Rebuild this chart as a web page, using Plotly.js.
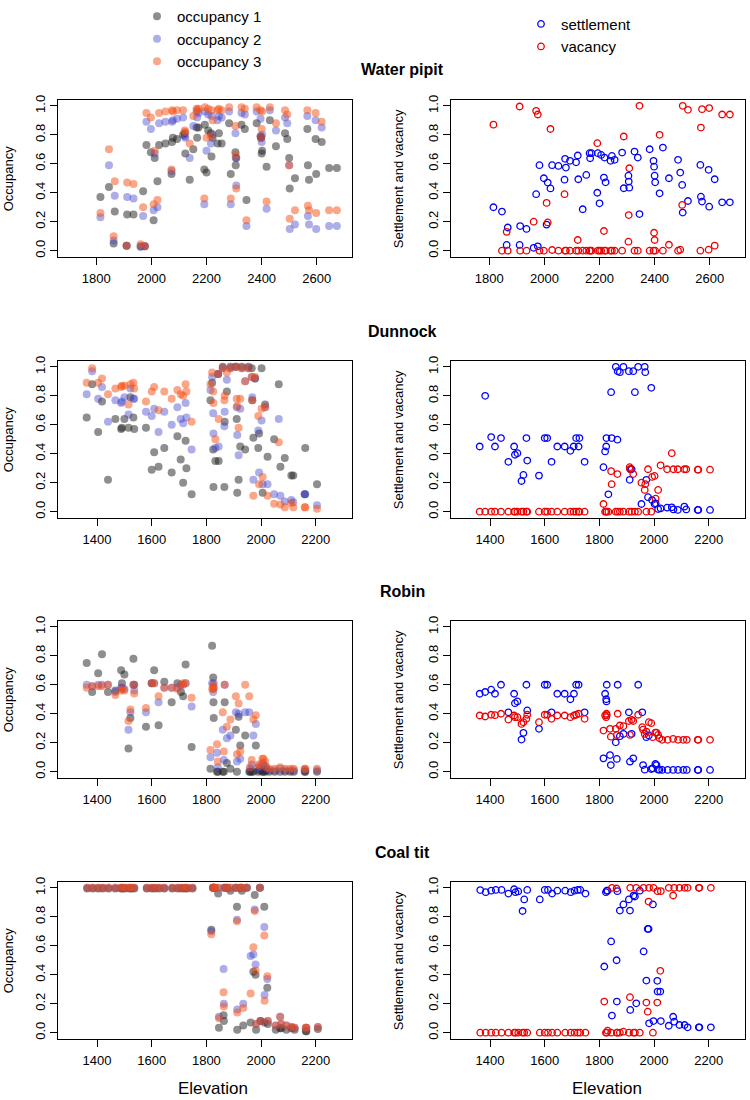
<!DOCTYPE html>
<html>
<head>
<meta charset="utf-8">
<script src="https://cdn.plot.ly/plotly-3.0.1.min.js"></script>
<style>html,body{margin:0;padding:0;background:#fff}</style>
</head>
<body>
<div id="chart" style="width:750px;height:1100px"></div>
<script>
// Water pipit: one entry per site (elevation, occupancy per year, settlement, vacancy)
const pipitElev = [1815,1846,1863,1867,1910,1912,1935,1961,1970,1976,1982,1998,2008,2012,2022,2028,2051,2073,2075,2078,2093,2115,2121,2123,2139,2152,2164,2166,2171,2192,2194,2200,2206,2216,2218,2222,2240,2245,2255,2282,2288,2305,2306,2308,2327,2339,2345,2382,2396,2398,2400,2402,2418,2430,2452,2485,2493,2500,2502,2521,2566,2568,2572,2596,2598,2618,2645,2673];
const pipitOcc1 = [.37,.44,.05,.27,.035,.25,.25,.03,.41,.03,.73,.68,.21,.64,.48,.73,.74,.53,.75,.78,.77,.80,.81,.67,.49,.70,.85,.78,.85,.56,.87,.54,.83,.81,.65,.78,.74,.81,.74,.88,.53,.68,.59,.64,.87,.84,.35,.88,.79,.78,.67,.69,.58,.90,.72,.81,.77,.64,.43,.50,.84,.59,.49,.77,.53,.75,.57,.57];
const pipitOcc2 = [.23,.59,.07,.38,.035,.37,.36,.025,.24,.03,.89,.84,.28,.67,.30,.88,.89,.55,.89,.90,.91,.92,.79,.78,.64,.86,.96,.92,.95,.32,.96,.69,.94,.74,.93,.80,.90,.93,.92,.96,.32,.81,.64,.45,.95,.94,.17,.96,.91,.78,.75,.80,.29,.97,.83,.92,.88,.59,.15,.18,.93,.24,.18,.90,.15,.85,.17,.17];
const pipitOcc3 = [.26,.70,.10,.48,.035,.47,.46,.045,.30,.03,.95,.92,.32,.69,.35,.95,.96,.56,.97,.96,.97,.97,.83,.82,.74,.93,.98,.97,.98,.36,.99,.78,.98,.79,.97,.90,.97,.98,.97,.99,.36,.86,.66,.43,.99,.98,.21,.99,.97,.78,.84,.96,.34,.99,.88,.97,.94,.59,.22,.28,.97,.31,.28,.95,.26,.89,.28,.28];
const pipitSettle = [.30,.27,.04,.16,.04,.17,.15,.02,.39,.03,.59,.50,.18,.47,.43,.59,.585,.49,.634,.574,.62,.61,.657,.493,.286,.523,.673,.638,.673,.40,.673,.327,.661,.505,.643,.472,.62,.654,.627,.677,.431,.518,.477,.435,.684,.643,.253,.70,.62,.58,.518,.472,.396,.712,.50,.627,.539,.454,.263,.343,.592,.373,.339,.558,.304,.493,.334,.334];
const pipitVacancy = [.87,0,.13,0,.995,0,0,.20,.965,.94,0,0,.33,.195,.84,.005,0,.39,0,0,0,0,.074,0,0,0,0,0,0,.742,0,0,0,.136,0,0,0,0,0,0,.788,.062,.246,.569,0,0,1.0,0,0,.124,.074,0,.80,0,.041,0,.007,.316,1.0,.972,0,.85,.977,.007,.984,.035,.94,.94];

// Dunnock
const dunnockElev = [1362,1382,1404,1418,1440,1467,1488,1491,1500,1515,1522,1533,1536,1579,1600,1609,1625,1646,1673,1694,1706,1715,1724,1727,1746,1815,1821,1825,1826,1833,1843,1845,1860,1866,1867,1875,1888,1908,1911,1913,1918,1924,1930,1942,1954,1966,1968,1972,1978,1990,1993,2002,2006,2015,2024,2048,2065,2071,2087,2111,2118,2160,2162,2205];
const dunnockOcc1 = [.65,.88,.55,.76,.22,.64,.57,.58,.64,.58,.79,.65,.57,.58,.29,.41,.31,.44,.27,.52,.36,.20,.49,.30,.12,.77,.89,.43,.17,.35,.95,.35,1.0,.17,.62,.83,1.0,1.0,.64,.13,.22,.45,1.0,.43,1.0,.99,.77,.51,.92,.44,.54,.99,.13,.74,.38,.50,.88,.31,.37,.25,.25,.12,.44,.19];
const dunnockOcc2 = [.81,.97,.78,.86,.62,.77,.75,.76,.79,.67,.85,.78,.78,.69,.66,.71,.55,.69,.60,.72,.64,.61,.75,.65,.43,.84,.93,.68,.54,.44,.95,.45,.99,.59,.69,.91,.99,1.0,.72,.53,.39,.71,.99,.90,.99,.93,.79,.22,.92,.56,.27,.63,.19,.72,.19,.12,.64,.11,.07,.08,.065,.12,.12,.045];
const dunnockOcc3 = [.89,.99,.89,.92,.81,.85,.86,.87,.87,.74,.88,.89,.85,.76,.83,.86,.70,.83,.78,.84,.81,.80,.88,.83,.62,.88,.96,.83,.75,.50,.95,.64,.99,.77,.80,.96,.99,1.0,.78,.73,.58,.78,.99,.90,.99,.93,.77,.11,.93,.66,.19,.71,.24,.72,.11,.055,.48,.05,.03,.06,.03,.03,.03,.02];
const dunnockSettle = [.45,.80,.515,.45,.508,.344,.45,.393,.404,.212,.254,.508,.353,.249,.508,.508,.344,.45,.45,.42,.45,.508,.45,.508,.344,.307,.416,.45,.508,.12,.825,.508,1.0,.497,.97,.963,1.0,.97,.22,.293,.293,.97,.825,1.0,.053,1.0,.963,.22,.10,.855,.08,.053,.058,.018,.023,.028,.03,.016,.012,.035,.016,.012,.012,.012];
const dunnockVacancy = [0,0,0,0,0,0,0,0,0,0,0,0,0,0,0,0,0,0,0,0,0,0,0,0,0,.053,0,0,0,0,.28,.19,0,.26,0,0,0,0,.307,.293,0,.26,0,0,.20,.15,.19,0,.293,0,.24,.247,.09,.15,.32,.293,.404,.293,.293,.293,.293,.29,.29,.29];

// Robin
const robinElev = [1362,1382,1404,1418,1440,1467,1488,1491,1500,1515,1522,1533,1536,1579,1600,1609,1625,1646,1673,1694,1707,1715,1724,1746,1815,1821,1825,1826,1827,1839,1842,1860,1864,1867,1875,1888,1908,1912,1918,1924,1942,1957,1960,1966,1972,1981,1990,1995,2005,2009,2015,2020,2030,2050,2070,2088,2107,2120,2160,2162,2205];
const robinOcc1 = [.75,.55,.68,.81,.55,.56,.70,.61,.67,.16,.37,.78,.60,.31,.61,.70,.32,.62,.48,.61,.55,.52,.74,.17,.02,.87,.65,.48,.37,0,0,0,0,.48,.06,.02,.29,0,.38,.18,.25,0,0,0,0,.18,0,.01,0,0,0,.01,0,0,0,0,0,0,0,0,0];
const robinOcc2 = [.60,.59,.60,.60,.60,.55,.58,.58,.57,.29,.41,.60,.56,.41,.61,.61,.48,.58,.58,.58,.60,.60,.61,.45,.10,.61,.55,.58,.61,.13,.03,.29,.08,.60,.23,.25,.41,.07,.40,.09,.41,.41,.02,.05,.25,.33,.03,.02,.06,.05,.04,.02,.01,.01,.02,.01,.01,.01,.01,.01,.01];
const robinOcc3 = [.58,.59,.59,.59,.60,.53,.56,.57,.56,.35,.43,.60,.54,.44,.61,.61,.52,.58,.58,.57,.60,.61,.61,.51,.15,.57,.60,.57,.58,.19,.07,.41,.14,.60,.31,.36,.52,.12,.47,.14,.60,.52,.03,.08,.36,.39,.05,.04,.09,.09,.07,.03,.02,.02,.03,.02,.02,.02,.02,.02,.02];
const robinSettle = [.538,.55,.566,.538,.60,.41,.538,.473,.485,.222,.268,.60,.423,.296,.60,.60,.41,.538,.538,.50,.538,.60,.60,.41,.092,.538,.50,.485,.60,.115,.046,.203,.088,.60,.245,.261,.41,.069,.261,.092,.60,.41,.046,.014,.238,.25,.018,.023,.053,.046,.014,.014,.012,.012,.012,.012,.012,.012,.012,.012,.012];
const robinVacancy = [.388,.381,.393,.39,.40,.36,.388,.376,.376,.33,.342,.365,.393,.342,.393,.393,.365,.388,.388,.376,.388,.393,.40,.365,.284,.388,.376,.40,.39,.296,.242,.296,.254,.40,.319,.314,.35,.254,.358,.35,.393,.307,.29,.261,.277,.342,.335,.238,.27,.27,.254,.231,.22,.22,.226,.22,.22,.22,.22,.22,.22];

// Coal tit
const coalElev = [1364,1384,1404,1421,1442,1467,1488,1493,1503,1519,1525,1536,1582,1600,1612,1627,1646,1675,1695,1709,1721,1730,1749,1818,1824,1827,1830,1843,1846,1863,1864,1866,1875,1888,1908,1912,1913,1925,1930,1935,1948,1962,1972,1977,1980,1982,1996,1998,2012,2013,2023,2025,2054,2070,2074,2093,2112,2123,2164,2166,2208];
const coalOcc1 = [.995,.995,.995,.995,.995,.995,.995,.995,.995,.995,.995,.995,.995,.995,.995,.995,.995,.995,.995,.995,.995,.995,.995,.71,1,1,1,.96,.035,.12,.08,1,1,.98,1,.87,.02,1,.98,.05,1,.07,.42,.95,.40,.02,1,.08,.87,.07,.31,.06,.02,.03,.03,.02,.03,.02,.01,.01,.025];
const coalOcc2 = [1,1,1,1,1,1,1,1,1,1,1,1,1,1,1,1,1,1,1,1,1,1,1,.70,1,1,1,1,.11,.44,.20,1,1,1,1,.78,.16,1,1,.20,1,.53,.54,.85,.47,.06,1,.08,.73,.26,.37,.08,.05,.11,.06,.05,.04,.035,.035,.035,.04];
const coalOcc3 = [1,1,1,1,1,1,1,1,1,1,1,1,1,1,1,1,1,1,1,1,1,1,1,.68,1,1,1,1,.10,.28,.18,1,1,1,1,.77,.14,1,1,.17,1,.27,.59,.84,.43,.06,1,.08,.67,.22,.39,.08,.05,.11,.06,.05,.04,.035,.035,.035,.04];
const coalSettle = [.984,.97,.98,.985,.985,.96,.99,.97,.975,.84,.92,.985,.92,.985,.985,.96,.98,.98,.97,.98,.985,.985,.96,.457,.97,.98,.98,.63,.118,.50,.215,.977,.843,.885,.92,.843,.157,.947,.94,.203,.98,.561,.36,.716,.716,.065,.885,.08,.358,.284,.284,.08,.048,.11,.076,.053,.053,.037,.037,.037,.037];
const coalVacancy = [0,0,0,0,0,0,0,0,0,0,0,0,0,0,0,0,0,0,0,0,0,0,0,.215,0,0,.014,0,1,.995,0,0,0,.007,0,.245,1,0,0,1,0,1,.208,.145,.905,1,0,1,.208,.977,.427,.977,1,.947,1,1,1,1,1,1,1];

const speciesNames = ['Water pipit', 'Dunnock', 'Robin', 'Coal tit'];
const elevations = [pipitElev, dunnockElev, robinElev, coalElev];
const occupancy1 = [pipitOcc1, dunnockOcc1, robinOcc1, coalOcc1];
const occupancy2 = [pipitOcc2, dunnockOcc2, robinOcc2, coalOcc2];
const occupancy3 = [pipitOcc3, dunnockOcc3, robinOcc3, coalOcc3];
const settlement = [pipitSettle, dunnockSettle, robinSettle, coalSettle];
const vacancy = [pipitVacancy, dunnockVacancy, robinVacancy, coalVacancy];

const pipitTicks = [1800, 2000, 2200, 2400, 2600];
const lowlandTicks = [1400, 1600, 1800, 2000, 2200];
const yTicks = [0, 0.2, 0.4, 0.6, 0.8, 1.0];
const yTickText = ['0.0', '0.2', '0.4', '0.6', '0.8', '1.0'];

// page geometry in pixels
const W = 750, H = 1100;
const leftBox = [58, 352], rightBox = [451, 745];
const rowTop = [100, 361, 621, 882];
const boxH = 156.5;
const px = function (x) { return x / W; };
const py = function (y) { return 1 - y / H; };

const font = 'Liberation Sans, Arial, Helvetica, sans-serif';
const occColors = ['rgba(30,30,30,0.5)', 'rgba(60,60,200,0.42)', 'rgba(245,80,20,0.5)'];
const occNames = ['occupancy 1', 'occupancy 2', 'occupancy 3'];

let data = [];
// legends are kept inside the figure so they do not push the margins
let layout = {
  width: W, height: H,
  margin: {l: 0, r: 0, t: 0, b: 0},
  paper_bgcolor: '#fff', plot_bgcolor: '#fff',
  font: {family: font, color: '#000'},
  showlegend: true,
  legend: {x: px(137), xanchor: 'left', y: 1, yanchor: 'top', font: {size: 15, family: font},
    bgcolor: 'rgba(0,0,0,0)', tracegroupgap: 0, itemclick: false},
  legend2: {x: px(521), xanchor: 'left', y: 0.993, yanchor: 'top', font: {size: 15, family: font},
    bgcolor: 'rgba(0,0,0,0)', tracegroupgap: 0, itemclick: false},
  annotations: []
};

function xAxis(box, anchor, range, ticks) {
  return {
    domain: [px(box[0]), px(box[1])], anchor: anchor, range: range,
    tickmode: 'array', tickvals: ticks, ticktext: ticks.map(String),
    ticks: 'outside', ticklen: 7, tickwidth: 1, tickcolor: '#000',
    showline: true, mirror: true, linecolor: '#000', linewidth: 1,
    showgrid: false, zeroline: false, ticklabelstandoff: 3,
    tickfont: {size: 13, family: font, color: '#000'}
  };
}

function yAxis(top, anchor) {
  return {
    domain: [py(top + boxH), py(top)], anchor: anchor, range: [-0.04, 1.04],
    tickmode: 'array', tickvals: yTicks, ticktext: yTickText, tickangle: -90,
    ticks: 'outside', ticklen: 7, tickwidth: 1, tickcolor: '#000',
    showline: true, mirror: true, linecolor: '#000', linewidth: 1,
    showgrid: false, zeroline: false,
    tickfont: {size: 13, family: font, color: '#000'}
  };
}

for (let r = 0; r < 4; r++) {
  const li = 2 * r + 1, ri = 2 * r + 2;
  const lx = 'x' + (li === 1 ? '' : li), ly = 'y' + (li === 1 ? '' : li);
  const rx = 'x' + ri, ry = 'y' + ri;
  const range = r === 0 ? [1661, 2728] : [1257, 2333];
  const ticks = r === 0 ? pipitTicks : lowlandTicks;

  layout['xaxis' + (li === 1 ? '' : li)] = xAxis(leftBox, ly, range, ticks);
  layout['yaxis' + (li === 1 ? '' : li)] = yAxis(rowTop[r], lx);
  layout['xaxis' + ri] = xAxis(rightBox, ry, range, ticks);
  layout['yaxis' + ri] = yAxis(rowTop[r], rx);

  const occ = [occupancy1[r], occupancy2[r], occupancy3[r]];
  occ.forEach(function (vals, k) {
    data.push({
      x: elevations[r], y: vals, xaxis: lx, yaxis: ly,
      type: 'scatter', mode: 'markers', name: occNames[k],
      legend: 'legend', legendgroup: 'occ' + k, showlegend: r === 0,
      marker: {size: 8, color: occColors[k], line: {width: 0}},
      hoverinfo: 'skip'
    });
  });

  data.push({
    x: elevations[r], y: settlement[r], xaxis: rx, yaxis: ry,
    type: 'scatter', mode: 'markers', name: 'settlement',
    legend: 'legend2', legendgroup: 'set', showlegend: r === 0,
    marker: {size: 6.5, symbol: 'circle-open', color: '#0000ff', line: {width: 1.3, color: '#0000ff'}},
    hoverinfo: 'skip'
  });
  data.push({
    x: elevations[r], y: vacancy[r], xaxis: rx, yaxis: ry,
    type: 'scatter', mode: 'markers', name: 'vacancy',
    legend: 'legend2', legendgroup: 'vac', showlegend: r === 0,
    marker: {size: 6.5, symbol: 'circle-open', color: '#ee0000', line: {width: 1.3, color: '#ee0000'}},
    hoverinfo: 'skip'
  });

  // species title
  layout.annotations.push({
    xref: 'paper', yref: 'paper', x: px(402), y: py(rowTop[r] - 30),
    xanchor: 'center', yanchor: 'middle', showarrow: false,
    text: '<b>' + speciesNames[r] + '</b>', font: {size: 16, family: font, color: '#000'}
  });
  // y titles
  layout.annotations.push({
    xref: 'paper', yref: 'paper', x: px(leftBox[0] - 50), y: py(rowTop[r] + boxH / 2),
    xanchor: 'center', yanchor: 'middle', showarrow: false, textangle: -90,
    text: 'Occupancy', font: {size: 13, family: font, color: '#000'}
  });
  layout.annotations.push({
    xref: 'paper', yref: 'paper', x: px(rightBox[0] - 53), y: py(rowTop[r] + boxH / 2),
    xanchor: 'center', yanchor: 'middle', showarrow: false, textangle: -90,
    text: 'Settlement and vacancy', font: {size: 13, family: font, color: '#000'}
  });
}

// x titles under the bottom row
[213, 607].forEach(function (cx) {
  layout.annotations.push({
    xref: 'paper', yref: 'paper', x: px(cx), y: py(1088),
    xanchor: 'center', yanchor: 'middle', showarrow: false,
    text: 'Elevation', font: {size: 17, family: font, color: '#000'}
  });
});

Plotly.newPlot('chart', data, layout, {staticPlot: true, displayModeBar: false});
</script>
</body>
</html>
